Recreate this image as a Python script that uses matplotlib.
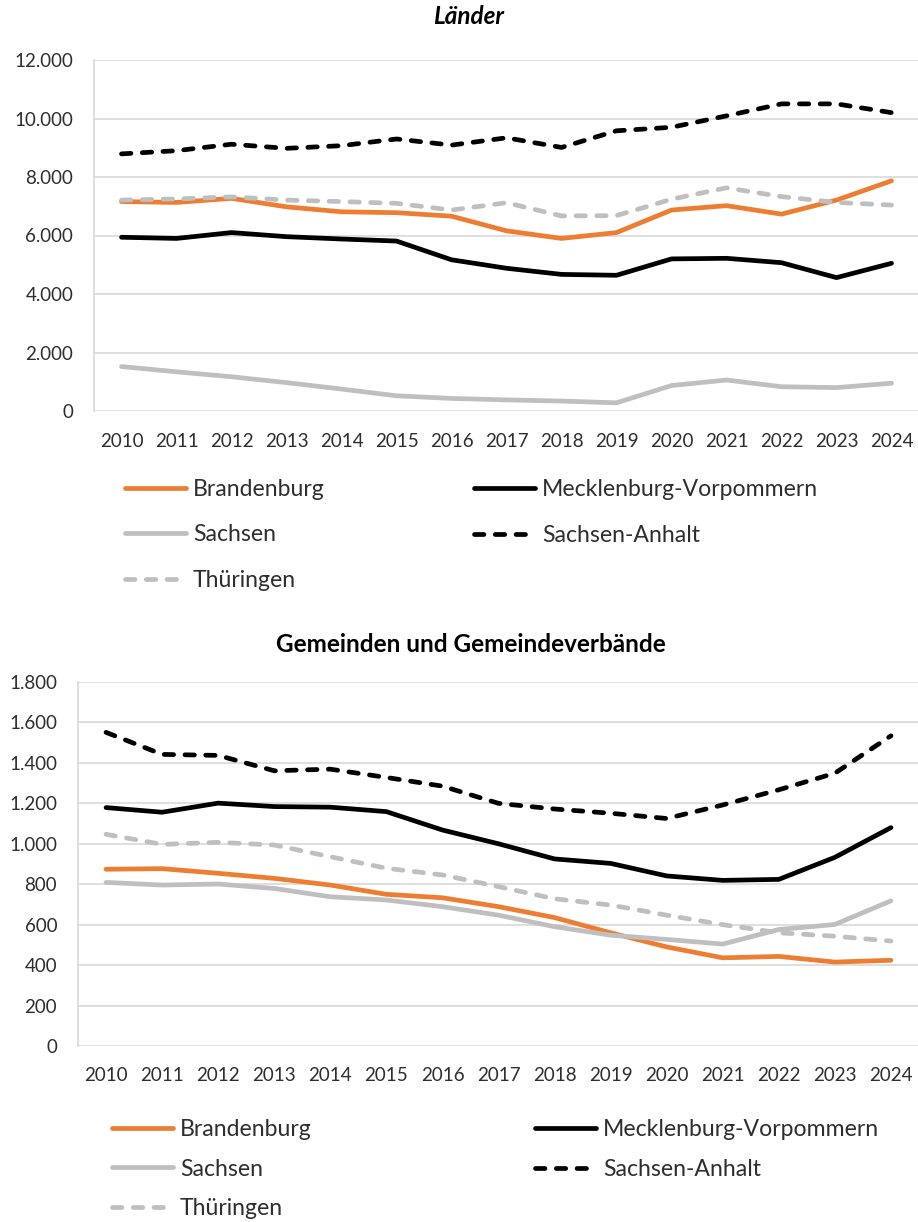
import matplotlib
matplotlib.use("Agg")
import matplotlib.pyplot as plt
from matplotlib.ticker import FuncFormatter, MultipleLocator

plt.rcParams['font.family'] = ['Lato', 'DejaVu Sans']

years = [str(y) for y in range(2010, 2025)]
series_names = ["Brandenburg", "Mecklenburg-Vorpommern", "Sachsen", "Sachsen-Anhalt", "Thüringen"]

# Länder
brb_l = [7160, 7130, 7270, 6980, 6810, 6780, 6660, 6160, 5900, 6100, 6870, 7020, 6730, 7210, 7870]
mv_l = [5940, 5900, 6100, 5960, 5880, 5810, 5170, 4880, 4670, 4640, 5200, 5220, 5070, 4560, 5050]
sn_l = [1520, 1340, 1170, 970, 750, 520, 430, 380, 340, 280, 870, 1060, 830, 800, 950]
st_l = [8790, 8900, 9120, 8980, 9070, 9300, 9090, 9340, 9010, 9580, 9700, 10090, 10500, 10500, 10200]
th_l = [7210, 7250, 7320, 7210, 7160, 7100, 6870, 7120, 6670, 6680, 7240, 7630, 7330, 7130, 7040]

# Gemeinden und Gemeindeverbände
brb_g = [874, 877, 854, 829, 796, 750, 733, 689, 635, 560, 490, 436, 443, 415, 424]
mv_g = [1179, 1156, 1201, 1184, 1181, 1159, 1068, 1000, 925, 903, 841, 819, 824, 933, 1080]
sn_g = [809, 796, 801, 779, 738, 722, 689, 647, 590, 548, 527, 504, 576, 601, 718]
st_g = [1551, 1442, 1437, 1361, 1369, 1328, 1285, 1200, 1172, 1151, 1125, 1192, 1267, 1349, 1534]
th_g = [1047, 997, 1007, 994, 936, 879, 846, 788, 728, 697, 647, 600, 560, 543, 519]

ORANGE = "#ED7D31"
GRAY = "#BFBFBF"
BLACK = "#000000"
GRID = "#D9D9D9"
TXT = "#2E2E2E"
LW = 3.4
DASH = (2.0, 2.4)

styles = {
    "Brandenburg": dict(color=ORANGE, ls="-"),
    "Mecklenburg-Vorpommern": dict(color=BLACK, ls="-"),
    "Sachsen": dict(color=GRAY, ls="-"),
    "Sachsen-Anhalt": dict(color=BLACK, ls="--"),
    "Thüringen": dict(color=GRAY, ls="--"),
}

W, H = 918, 1222
fig = plt.figure(figsize=(W / 100, H / 100), dpi=100)


def fmt(v, pos):
    return f"{int(round(v)):,}".replace(",", ".")


def px_axes(left, top, right, bottom):
    return fig.add_axes([left / W, 1 - bottom / H, (right - left) / W, (bottom - top) / H])


def draw(ax, data, ymax, ystep, xpad):
    x = list(range(len(years)))
    handles = {}
    for name in series_names:
        st = styles[name]
        ln, = ax.plot(x, data[name], color=st["color"], lw=LW, solid_capstyle="round",
                      dash_capstyle="round", solid_joinstyle="round", label=name)
        if st["ls"] == "--":
            ln.set_dashes(DASH)
        handles[name] = ln
    ax.set_xlim(-0.5, len(years) - 0.5)
    ax.set_ylim(0, ymax)
    ax.yaxis.set_major_locator(MultipleLocator(ystep))
    ax.yaxis.set_major_formatter(FuncFormatter(fmt))
    ax.set_xticks(x)
    ax.set_xticklabels(years)
    ax.grid(axis="y", color=GRID, lw=1.2)
    ax.set_axisbelow(True)
    for s in ["top", "right", "bottom"]:
        ax.spines[s].set_visible(False)
    ax.spines["left"].set_color(GRID)
    ax.spines["left"].set_linewidth(1.2)
    ax.tick_params(axis="both", length=0, labelsize=13.5, colors=TXT)
    ax.tick_params(axis="y", pad=15)
    ax.tick_params(axis="x", pad=xpad)
    return handles


def legend_col(handles, names, x_px, y_px, spacing):
    leg = fig.legend([handles[n] for n in names], names, loc="center left",
                     bbox_to_anchor=(x_px / W, 1 - y_px / H), frameon=False,
                     fontsize=16.6, handlelength=2.65, handletextpad=0.3,
                     borderpad=0, borderaxespad=0, labelspacing=spacing,
                     labelcolor=TXT)
    for lh in leg.get_lines():
        lh.set_linewidth(LW)
    return leg


# Top chart
ax1 = px_axes(94, 60, 919, 411)
h1 = draw(ax1, {"Brandenburg": brb_l, "Mecklenburg-Vorpommern": mv_l, "Sachsen": sn_l,
                "Sachsen-Anhalt": st_l, "Thüringen": th_l}, 12000, 2000, 16)
fig.text(469 / W, 1 - 16 / H, "Länder", ha="center", va="center", fontsize=17.5,
         fontweight="bold", fontstyle="italic", color="black")
legend_col(h1, ["Brandenburg", "Sachsen", "Thüringen"], 125, 535, 1.08)
legend_col(h1, ["Mecklenburg-Vorpommern", "Sachsen-Anhalt"], 474, 512.5, 1.08)

# Bottom chart
ax2 = px_axes(78, 682, 919, 1046)
h2 = draw(ax2, {"Brandenburg": brb_g, "Mecklenburg-Vorpommern": mv_g, "Sachsen": sn_g,
                "Sachsen-Anhalt": st_g, "Thüringen": th_g}, 1800, 200, 15)
fig.text(471 / W, 1 - 644 / H, "Gemeinden und Gemeindeverbände", ha="center", va="center",
         fontsize=17.5, fontweight="bold", color="black")
legend_col(h2, ["Brandenburg", "Sachsen", "Thüringen"], 112, 1169, 0.80)
legend_col(h2, ["Mecklenburg-Vorpommern", "Sachsen-Anhalt"], 535, 1149.5, 0.80)

fig.savefig("out.png", dpi=100, facecolor="white")
